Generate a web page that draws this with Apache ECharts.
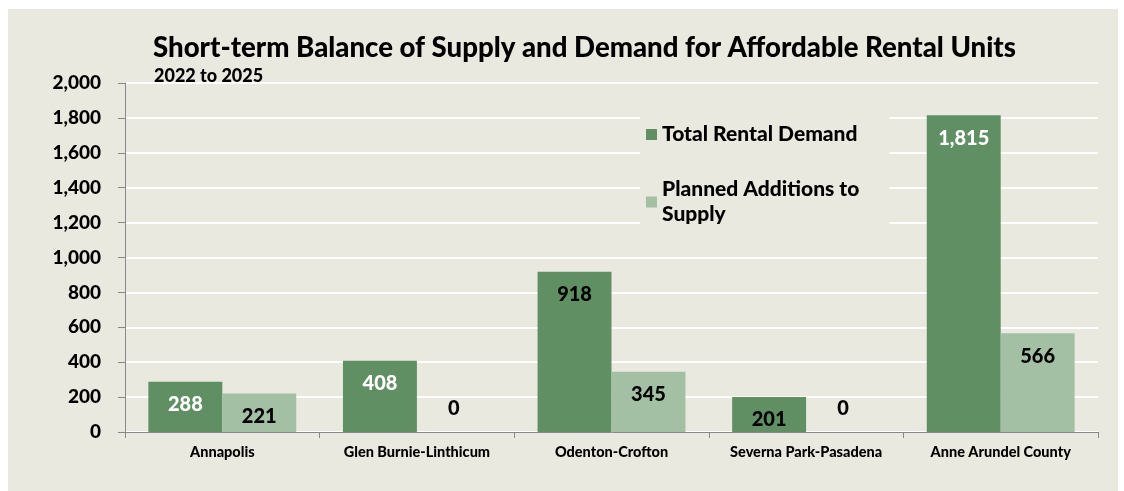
<!DOCTYPE html>
<html><head><meta charset="utf-8">
<script src="https://cdn.jsdelivr.net/npm/echarts@6/dist/echarts.min.js"></script>
<style>html,body{margin:0;padding:0;background:#fff}#c{width:1124px;height:491px}</style>
</head><body><div id="c"></div>
<script>
const categories = ['Annapolis', 'Glen Burnie-Linthicum', 'Odenton-Crofton', 'Severna Park-Pasadena', 'Anne Arundel County'];
const demand = [288, 408, 918, 201, 1815];
const supply = [221, 0, 345, 0, 566];
const demandLabelColors = ['#ffffff', '#ffffff', '#000000', '#000000', '#ffffff'];
const seriesNames = ['Total Rental Demand', 'Planned Additions to Supply'];
const titleText = 'Short-term Balance of Supply and Demand for Affordable Rental Units';
const subtitleText = '2022 to 2025';

const FONT = 'Lato';
const W = 900;
const BG = '#eae9df';
const DARK = '#5f8f63';
const LIGHT = '#a3c0a4';

function mkData(vals, colors) {
  return vals.map((v, i) => ({
    value: v,
    label: v === 0
      ? { position: 'top', distance: 13, color: '#000' }
      : { color: colors ? colors[i] : '#000' }
  }));
}

const chart = echarts.init(document.getElementById('c'), null, { renderer: 'canvas' });
chart.setOption({
  backgroundColor: '#ffffff',
  graphic: [{
    type: 'rect', z: -10, silent: true,
    shape: { x: 8, y: 9, width: 1110, height: 482 },
    style: { fill: BG }
  }],
  title: [{
    text: titleText, left: 148, top: 29,
    textStyle: { fontFamily: FONT, fontWeight: W, fontSize: 27.6, color: '#000' }
  }, {
    text: subtitleText, left: 149, top: 62,
    textStyle: { fontFamily: FONT, fontWeight: W, fontSize: 18, color: '#000' }
  }],
  legend: {
    orient: 'vertical', left: 640, top: 114,
    itemWidth: 11, itemHeight: 11, itemGap: 30,
    backgroundColor: BG, padding: [8, 30, 6, 6],
    icon: 'rect',
    data: seriesNames,
    formatter: n => n === seriesNames[1] ? 'Planned Additions to\nSupply' : n,
    textStyle: { fontFamily: FONT, fontWeight: W, fontSize: 21, color: '#000', lineHeight: 25 }
  },
  grid: { left: 125, right: 26, top: 83, bottom: 59 },
  xAxis: {
    type: 'category', data: categories,
    axisLine: { lineStyle: { color: '#888', width: 1 } },
    axisTick: { show: true, length: 6, lineStyle: { color: '#888' } },
    axisLabel: { interval: 0, fontFamily: FONT, fontWeight: W, fontSize: 14.5, color: '#000', margin: 13 }
  },
  yAxis: {
    type: 'value', min: 0, max: 2000, interval: 200,
    axisLine: { show: true, lineStyle: { color: '#888', width: 1 } },
    axisTick: { show: true, length: 7, lineStyle: { color: '#888' } },
    splitLine: { lineStyle: { color: '#ffffff', width: 2 } },
    axisLabel: {
      fontFamily: FONT, fontWeight: W, fontSize: 19, color: '#000', margin: 24,
      formatter: v => v.toLocaleString('en-US')
    }
  },
  series: [{
    name: seriesNames[0], type: 'bar', data: mkData(demand, demandLabelColors),
    barGap: '0%', barCategoryGap: '24%',
    itemStyle: { color: DARK },
    label: { show: true, position: 'insideTop', distance: 13, fontFamily: FONT, fontWeight: W, fontSize: 20,
      formatter: p => p.value.toLocaleString('en-US') }
  }, {
    name: seriesNames[1], type: 'bar', data: mkData(supply),
    barGap: '0%', barCategoryGap: '24%',
    itemStyle: { color: LIGHT },
    label: { show: true, position: 'insideTop', distance: 13, fontFamily: FONT, fontWeight: W, fontSize: 20, color: '#000',
      formatter: p => p.value.toLocaleString('en-US') }
  }]
});
</script></body></html>
